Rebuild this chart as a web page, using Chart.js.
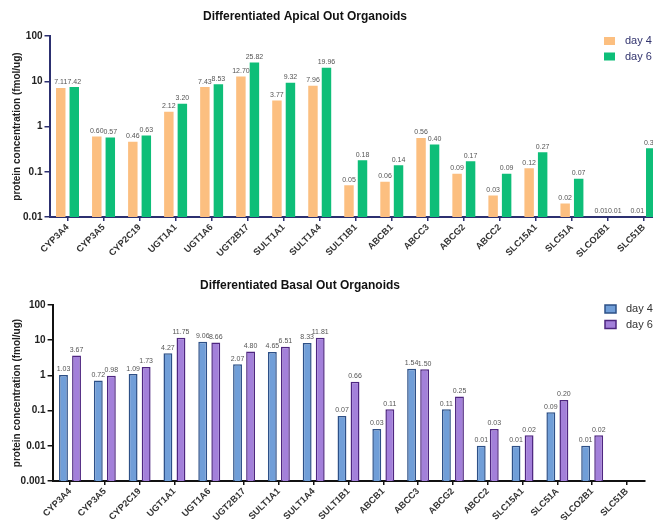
<!DOCTYPE html>
<html>
<head>
<meta charset="utf-8">
<script src="https://cdn.jsdelivr.net/npm/chart.js@4.4.1/dist/chart.umd.min.js"></script>
<style>
  html, body { margin: 0; padding: 0; background: #fff; overflow: hidden; width: 653px; height: 520px; }
  #wrapA { position: absolute; left: 0; top: 0; width: 662px; height: 262px; }
  #wrapB { position: absolute; left: 0; top: 262px; width: 653px; height: 258px; }
</style>
</head>
<body>
<div id="wrapA"><canvas id="apical"></canvas></div>
<div id="wrapB"><canvas id="basal"></canvas></div>
<script>
// Transporter / enzyme panel
const genes = ['CYP3A4', 'CYP3A5', 'CYP2C19', 'UGT1A1', 'UGT1A6', 'UGT2B17', 'SULT1A1', 'SULT1A4',
  'SULT1B1', 'ABCB1', 'ABCC3', 'ABCG2', 'ABCC2', 'SLC15A1', 'SLC51A', 'SLCO2B1', 'SLC51B'];

// Apical-out organoids (fmol/ug)
const apicalDay4 = [7.11, 0.60, 0.46, 2.12, 7.43, 12.70, 3.77, 7.96, 0.05, 0.06, 0.56, 0.09, 0.03, 0.12, 0.02, 0.01, 0.01];
const apicalDay6 = [7.42, 0.57, 0.63, 3.20, 8.53, 25.82, 9.32, 19.96, 0.18, 0.14, 0.40, 0.17, 0.09, 0.27, 0.07, 0.01, 0.33];

// Basal-out organoids (fmol/ug); SLC51B not detected
const basalDay4 = [1.03, 0.72, 1.09, 4.27, 9.06, 2.07, 4.65, 8.33, 0.07, 0.03, 1.54, 0.11, 0.01, 0.01, 0.09, 0.01, null];
const basalDay6 = [3.67, 0.98, 1.73, 11.75, 8.66, 4.80, 6.51, 11.81, 0.66, 0.11, 1.50, 0.25, 0.03, 0.02, 0.20, 0.02, null];

const apicalTicks = [0.01, 0.1, 1, 10, 100];
const basalTicks = [0.001, 0.01, 0.1, 1, 10, 100];

const FONT = "'Liberation Sans', Arial, sans-serif";
const yTitle = 'protein concentration (fmol/ug)';

// value labels above each bar
const valueLabels = {
  id: 'valueLabels',
  afterDatasetsDraw(chart) {
    const ctx = chart.ctx;
    ctx.save();
    ctx.font = '7px ' + FONT;
    ctx.fillStyle = '#555';
    ctx.textAlign = 'center';
    ctx.textBaseline = 'bottom';
    chart.data.datasets.forEach((ds, i) => {
      const meta = chart.getDatasetMeta(i);
      meta.data.forEach((bar, j) => {
        const v = ds.data[j];
        if (v === null || v === undefined) return;
        ctx.fillText(v.toFixed(2), bar.x, bar.y - 2);
      });
    });
    ctx.restore();
  }
};

// heading and legend block
const decorations = {
  id: 'decorations',
  afterDraw(chart, args, opts) {
    const ctx = chart.ctx;
    ctx.save();
    ctx.font = 'bold 12px ' + FONT;
    ctx.fillStyle = '#111';
    ctx.textAlign = 'center';
    ctx.textBaseline = 'middle';
    ctx.fillText(opts.title, opts.titleX, opts.titleY);
    ctx.font = '11px ' + FONT;
    ctx.textAlign = 'left';
    chart.data.datasets.forEach((ds, i) => {
      const y = opts.legendY + i * opts.legendGap;
      ctx.fillStyle = ds.backgroundColor;
      ctx.fillRect(opts.legendX, y - 4, 11, 8);
      if (ds.borderWidth) {
        ctx.strokeStyle = ds.borderColor;
        ctx.lineWidth = 1.5;
        ctx.strokeRect(opts.legendX, y - 4, 11, 8);
      }
      ctx.fillStyle = opts.legendColor;
      ctx.fillText(ds.label, opts.legendX + 21, y);
    });
    ctx.restore();
  }
};

function makeChart(canvasId, cfg) {
  const axisColor = cfg.axisColor;
  return new Chart(document.getElementById(canvasId), {
    type: 'bar',
    data: {
      labels: genes,
      datasets: [
        { label: 'day 4', data: cfg.day4, backgroundColor: cfg.c4, borderColor: cfg.b4, borderWidth: cfg.bw,
          categoryPercentage: 0.75, barPercentage: cfg.barPct },
        { label: 'day 6', data: cfg.day6, backgroundColor: cfg.c6, borderColor: cfg.b6, borderWidth: cfg.bw,
          categoryPercentage: 0.75, barPercentage: cfg.barPct }
      ]
    },
    options: {
      responsive: true,
      maintainAspectRatio: false,
      animation: false,
      devicePixelRatio: 1,
      layout: { padding: cfg.padding },
      plugins: {
        legend: { display: false },
        title: { display: false },
        tooltip: { enabled: false },
        decorations: cfg.deco
      },
      scales: {
        x: {
          grid: { display: true, drawOnChartArea: false, offset: false, color: axisColor, lineWidth: 1.5, tickLength: 4 },
          border: { display: true, color: axisColor, width: 2 },
          ticks: {
            color: '#333', font: { family: FONT, size: 9.2, weight: 'bold' },
            maxRotation: 45, minRotation: 45, autoSkip: false, padding: 1
          },
          afterFit(scale) { scale.height = cfg.xHeight; scale.paddingLeft = 0; scale.paddingRight = 0; }
        },
        y: {
          type: 'logarithmic',
          min: cfg.ticks[0],
          max: cfg.ticks[cfg.ticks.length - 1],
          grid: { display: true, drawOnChartArea: false, color: axisColor, lineWidth: 1.5, tickLength: 5 },
          border: { display: true, color: axisColor, width: 2 },
          afterBuildTicks(scale) { scale.ticks = cfg.ticks.map(v => ({ value: v })); },
          ticks: {
            color: '#222', font: { family: FONT, size: 10, weight: 'bold' }, padding: 2,
            callback: (v) => String(v)
          },
          title: {
            display: true, text: yTitle, color: '#222',
            font: { family: FONT, size: 10, weight: 'bold' }, padding: { top: 11, bottom: 0 }
          },
          afterFit(scale) { scale.width = cfg.yWidth; scale.paddingTop = 0; scale.paddingBottom = 0; }
        }
      }
    },
    plugins: [valueLabels, decorations]
  });
}

makeChart('apical', {
  day4: apicalDay4, day6: apicalDay6,
  c4: 'rgb(252,191,128)', b4: 'rgb(252,191,128)', c6: 'rgb(14,190,120)', b6: 'rgb(14,190,120)', bw: 0,
  barPct: 0.7,
  axisColor: 'rgb(44,48,112)',
  ticks: apicalTicks,
  padding: { top: 36, left: 0, right: 0, bottom: 0 },
  xHeight: 45, yWidth: 49.5,
  deco: { title: 'Differentiated Apical Out Organoids', titleX: 305, titleY: 17,
          legendX: 604, legendY: 41, legendGap: 15.5, legendColor: 'rgb(50,52,110)' }
});

makeChart('basal', {
  day4: basalDay4, day6: basalDay6,
  c4: 'rgb(112,158,216)', b4: 'rgb(45,80,135)', c6: 'rgb(163,128,218)', b6: 'rgb(78,38,128)', bw: 1.5,
  barPct: 0.68,
  axisColor: '#111',
  ticks: basalTicks,
  padding: { top: 43, left: 0, right: 8.6, bottom: 0 },
  xHeight: 39, yWidth: 52.6,
  deco: { title: 'Differentiated Basal Out Organoids', titleX: 300, titleY: 24,
          legendX: 605, legendY: 47, legendGap: 15.5, legendColor: '#333' }
});
</script>
</body>
</html>
